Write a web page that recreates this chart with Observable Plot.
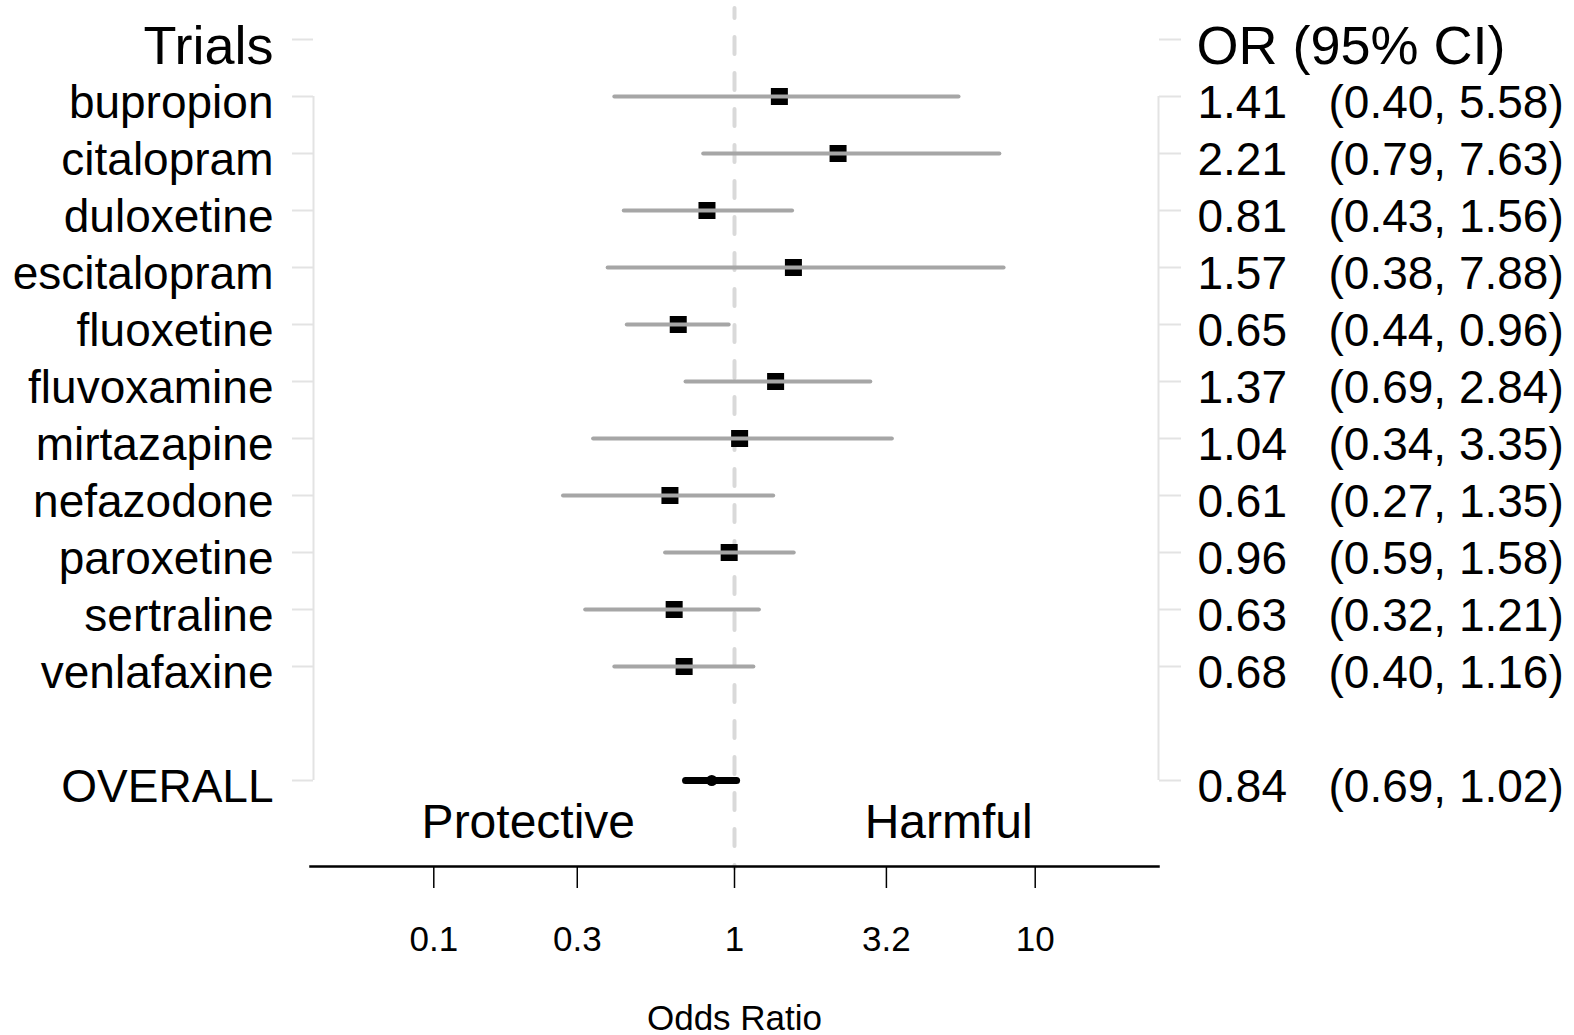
<!DOCTYPE html>
<html>
<head>
<meta charset="utf-8">
<script src="https://cdn.jsdelivr.net/npm/d3@7"></script>
<script src="https://cdn.jsdelivr.net/npm/@observablehq/plot@0.6"></script>
<style>
  html, body { margin: 0; padding: 0; background: #fff; overflow: hidden; }
  #chart svg { display: block; }
</style>
</head>
<body>
<div id="chart"></div>
<script>
// ---- data ----
const trials = ["bupropion","citalopram","duloxetine","escitalopram","fluoxetine","fluvoxamine","mirtazapine","nefazodone","paroxetine","sertraline","venlafaxine"];
const orValues = [1.41, 2.21, 0.81, 1.57, 0.65, 1.37, 1.04, 0.61, 0.96, 0.63, 0.68];
const ciLower  = [0.40, 0.79, 0.43, 0.38, 0.44, 0.69, 0.34, 0.27, 0.59, 0.32, 0.40];
const ciUpper  = [5.58, 7.63, 1.56, 7.88, 0.96, 2.84, 3.35, 1.35, 1.58, 1.21, 1.16];
const overallLabel = "OVERALL";
const overallOR = 0.84, overallLo = 0.69, overallHi = 1.02;
const leftHeader = "Trials";
const rightHeader = "OR (95% CI)";
const xTicks = [0.1, 0.3, 1, 3.2, 10];
const xTickLabels = ["0.1", "0.3", "1", "3.2", "10"];
const xLabel = "Odds Ratio";
const annotations = [{label: "Protective", x: 0.2}, {label: "Harmful", x: 5}];
const blankRow = " ";

// ---- derived tables ----
const rows = trials.map((t, i) => ({name: t, or: orValues[i], lo: ciLower[i], hi: ciUpper[i]}));
const overall = [{name: overallLabel, or: overallOR, lo: overallLo, hi: overallHi}];
const allRows = [...rows, ...overall];
const yDomain = [leftHeader, ...trials, blankRow, overallLabel];
const tickRows = [leftHeader, ...trials, overallLabel];
const xDomain = [Math.pow(10, -1.41), Math.pow(10, 1.41)];
const xTickTable = xTicks.map((v, i) => ({v, label: xTickLabels[i]}));
const fmt = v => v.toFixed(2);

const W = 1574, H = 1035;
const font = "'Liberation Sans', Arial, Helvetica, sans-serif";
const bracket = "#e3e3e3";

const chart = Plot.plot({
  width: W,
  height: H,
  marginLeft: 310,
  marginRight: 416,
  marginTop: 38,
  marginBottom: 169,
  style: {fontFamily: font, color: "black", background: "white"},
  x: {type: "log", domain: xDomain, axis: null},
  y: {type: "point", domain: yDomain, padding: 0, insetBottom: 86, axis: null},
  marks: [
    // reference line at OR = 1
    Plot.ruleX([1], {stroke: "#d9d9d9", strokeWidth: 4, strokeDasharray: "17,19", strokeDashoffset: 7, strokeLinecap: "round", insetTop: -30, insetBottom: -2}),
    // left bracket axis
    Plot.axisY(tickRows, {anchor: "left", tickSize: 21, dx: 3, stroke: bracket, strokeWidth: 2, tickFormat: () => "", label: null}),
    Plot.ruleX([xDomain[0]], {y1: () => trials[0], y2: () => overallLabel, dx: 3, stroke: bracket, strokeWidth: 2}),
    // right bracket axis
    Plot.axisY(tickRows, {anchor: "right", tickSize: 22, stroke: bracket, strokeWidth: 2, tickFormat: () => "", label: null}),
    Plot.ruleX([xDomain[1]], {y1: () => trials[0], y2: () => overallLabel, stroke: bracket, strokeWidth: 2}),
    // bottom axis line, ticks and labels
    Plot.frame({anchor: "bottom", stroke: "black", strokeWidth: 2.5}),
    Plot.axisX(xTicks, {anchor: "bottom", tickSize: 22, strokeWidth: 1.5, tickFormat: () => "", label: null}),
    Plot.text(xTickTable, {x: "v", text: "label", frameAnchor: "bottom", lineAnchor: "bottom", dy: 84, fontSize: 35, fill: "black"}),
    Plot.text([xLabel], {frameAnchor: "bottom", lineAnchor: "bottom", dy: 163, fontSize: 35, fill: "black"}),
    // protective / harmful
    Plot.text(annotations, {x: "x", text: "label", frameAnchor: "bottom", lineAnchor: "bottom", dx: 4, dy: -29, fontSize: 48, fill: "black"}),
    // trial estimates
    Plot.dot(rows, {x: "or", y: "name", symbol: "square", r: 9.6, fill: "black", stroke: null}),
    Plot.ruleY(rows, {y: "name", x1: "lo", x2: "hi", stroke: "#a6a6a6", strokeWidth: 4, strokeLinecap: "round"}),
    // overall
    Plot.ruleY(overall, {y: "name", x1: "lo", x2: "hi", stroke: "black", strokeWidth: 7, strokeLinecap: "round"}),
    Plot.dot(overall, {x: "or", y: "name", r: 5.5, fill: "black", stroke: null}),
    // left labels
    Plot.text([leftHeader], {y: d => d, text: d => d, frameAnchor: "left", textAnchor: "end", dx: -37, dy: 7, fontSize: 54, fill: "black"}),
    Plot.text(allRows, {y: "name", text: "name", frameAnchor: "left", textAnchor: "end", dx: -37, dy: 7, fontSize: 46, fill: "black"}),
    // right columns
    Plot.text([rightHeader], {y: () => leftHeader, text: d => d, frameAnchor: "right", textAnchor: "start", dx: 38, dy: 7, fontSize: 54, fill: "black"}),
    Plot.text(allRows, {y: "name", text: d => fmt(d.or), frameAnchor: "right", textAnchor: "start", dx: 39, dy: 7, fontSize: 46, fill: "black"}),
    Plot.text(allRows, {y: "name", text: d => `(${fmt(d.lo)}, ${fmt(d.hi)})`, frameAnchor: "right", textAnchor: "start", dx: 170, dy: 7, fontSize: 46, fill: "black"})
  ]
});
document.getElementById("chart").appendChild(chart);
</script>
</body>
</html>
